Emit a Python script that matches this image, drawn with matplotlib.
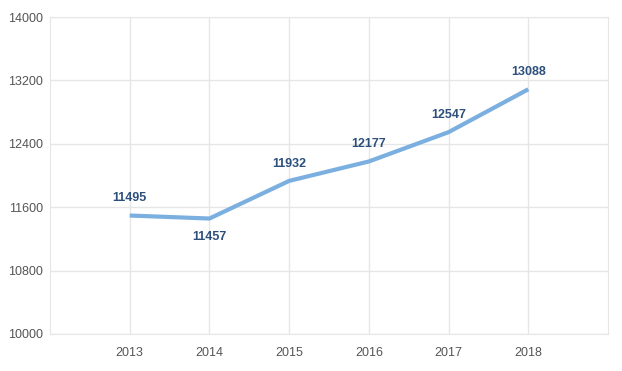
import matplotlib
matplotlib.use("Agg")
import matplotlib.pyplot as plt

years = [2013, 2014, 2015, 2016, 2017, 2018]
values = [11495, 11457, 11932, 12177, 12547, 13088]
y_ticks = [10000, 10800, 11600, 12400, 13200, 14000]

plt.rcParams['font.family'] = ['Liberation Sans', 'DejaVu Sans']

fig = plt.figure(figsize=(6.22, 3.71), dpi=100)
ax = fig.add_axes([50 / 622, 37 / 371, 558 / 622, 317 / 371])

ax.plot(years, values, color='#7aafe0', linewidth=3, solid_capstyle='butt', zorder=3)

# value labels, the dip in 2014 gets its label under the line
for x, v in zip(years, values):
    if x == 2014:
        ax.annotate(str(v), (x, v), xytext=(0, -9), textcoords='offset points',
                    ha='center', va='top', fontsize=9, fontweight='bold', color='#2d4f7c')
    else:
        ax.annotate(str(v), (x, v), xytext=(0, 8), textcoords='offset points',
                    ha='center', va='bottom', fontsize=9, fontweight='bold', color='#2d4f7c')

ax.set_xlim(2012, 2019)
ax.set_ylim(10000, 14000)
ax.set_xticks(years)
ax.set_yticks(y_ticks)
ax.tick_params(length=0, labelsize=9, labelcolor='#555555')
ax.tick_params(axis='x', pad=9)
ax.tick_params(axis='y', pad=5)
ax.grid(True, color='#e6e6e6', linewidth=1)
ax.set_axisbelow(True)
for s in ax.spines.values():
    s.set_color('#e6e6e6')

fig.savefig('out.png', dpi=100, facecolor='white')
